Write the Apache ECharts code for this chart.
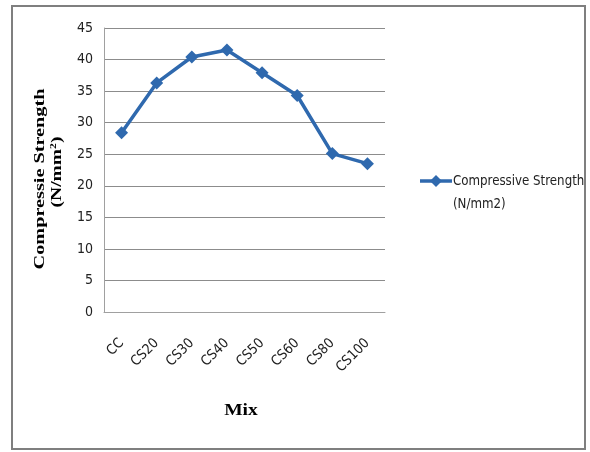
<!DOCTYPE html>
<html><head><meta charset="utf-8">
<script src="https://cdn.jsdelivr.net/npm/echarts@6/dist/echarts.min.js"></script>
<style>html,body{margin:0;padding:0;background:#fff}#c{width:590px;height:452px}</style>
</head><body><div id="c"></div>
<script>
const categories = ['CC','CS20','CS30','CS40','CS50','CS60','CS80','CS100'];
const strength = [28.4, 36.3, 40.4, 41.5, 37.9, 34.3, 25.1, 23.5];
const yTicks = [0,5,10,15,20,25,30,35,40,45];
const seriesName = 'Compressive Strength (N/mm2)';
const lineColor = '#2f69ae';
const sansFont = '"DejaVu Sans Condensed", "DejaVu Sans", sans-serif';

const chart = echarts.init(document.getElementById('c'), null, {renderer:'canvas'});
chart.setOption({
  animation:false,
  backgroundColor:'#fff',
  grid:{left:104, top:28, width:281, height:284, containLabel:false},
  xAxis:{
    type:'category', data:categories, boundaryGap:true,
    axisLine:{lineStyle:{color:'#a0a0a0', width:1}},
    axisTick:{show:false},
    axisLabel:{rotate:45, margin:29, fontFamily:sansFont, fontSize:14, color:'#222'}
  },
  yAxis:{
    type:'value', min:0, max:45, interval:5,
    axisLine:{show:true, lineStyle:{color:'#a0a0a0'}},
    axisTick:{show:false},
    splitLine:{lineStyle:{color:'#8c8c8c', width:1}},
    axisLabel:{margin:11, fontFamily:sansFont, fontSize:14, color:'#222',
      formatter:function(v){return yTicks.indexOf(v)>=0 ? String(v) : '';}}
  },
  series:[{
    name:seriesName, type:'line', data:strength,
    symbol:'diamond', symbolSize:13,
    lineStyle:{color:lineColor, width:3.5},
    itemStyle:{color:lineColor}
  }],
  graphic:[
    {type:'rect', shape:{x:12, y:6, width:573, height:443}, style:{fill:'none', stroke:'#7f7f7f', lineWidth:2}, silent:true},
    {type:'text', x:40, y:179, rotation:Math.PI/2, scaleX:1.35,
      style:{text:'Compressie Strength', font:'bold 15px "Liberation Serif"', fill:'#000', align:'center', verticalAlign:'middle'}},
    {type:'text', x:57, y:172, rotation:Math.PI/2, scaleX:1.3,
      style:{text:'(N/mm{s|2})', rich:{s:{font:'bold 9px "Liberation Serif"', verticalAlign:'top', padding:[0,0,7,0]}}, font:'bold 15px "Liberation Serif"', fill:'#000', align:'center', verticalAlign:'middle'}},
    {type:'text', x:241, y:411, scaleX:1.15,
      style:{text:'Mix', font:'bold 17px "Liberation Serif"', fill:'#000', align:'center', verticalAlign:'middle'}},
    {type:'group', x:420, y:181, children:[
      {type:'line', shape:{x1:0,y1:0,x2:32,y2:0}, style:{stroke:lineColor, lineWidth:3.5}},
      {type:'polygon', shape:{points:[[16,-6],[22,0],[16,6],[10,0]]}, style:{fill:lineColor}}
    ]},
    {type:'text', x:453, y:170, scaleX:0.94,
      style:{text:'Compressive Strength\n(N/mm2)', font:'14px ' + sansFont, fill:'#222', align:'left', verticalAlign:'top', lineHeight:23}}
  ]
});
</script></body></html>
